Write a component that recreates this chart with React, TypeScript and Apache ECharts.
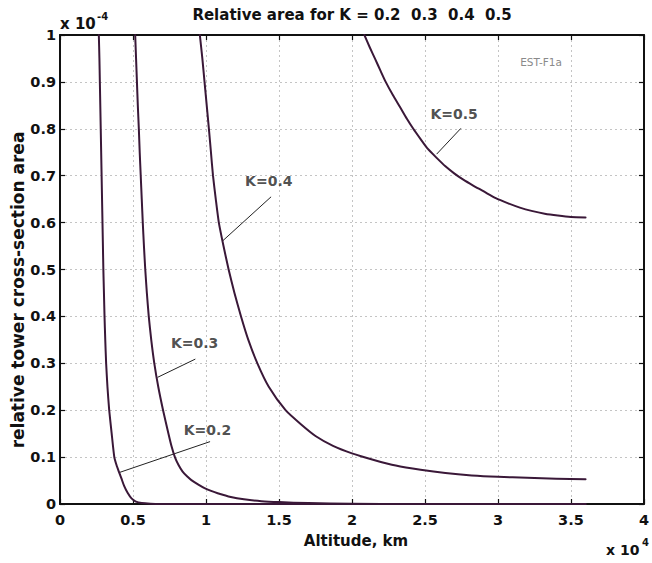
import React, { useEffect, useRef } from "react";
import * as echarts from "echarts";

// Altitude (x 10^4 km) and relative tower cross-section area (x 10^-4) for each K
const altK02 = [0.266, 0.27, 0.273, 0.276, 0.279, 0.282, 0.285, 0.288, 0.291, 0.294, 0.297, 0.301, 0.305, 0.31, 0.316, 0.325, 0.337, 0.354, 0.372, 0.387, 0.403, 0.42, 0.44, 0.463, 0.49, 0.52, 0.56, 0.62, 0.7, 0.85, 3.6];
const areaK02 = [1.0, 0.95, 0.9, 0.85, 0.8, 0.75, 0.7, 0.65, 0.6, 0.55, 0.5, 0.45, 0.4, 0.35, 0.3, 0.25, 0.2, 0.15, 0.1, 0.083, 0.069, 0.055, 0.038, 0.024, 0.012, 0.005, 0.002, 0.0007, 0.0002, 0, 0];

const altK03 = [0.515, 0.521, 0.527, 0.533, 0.54, 0.546, 0.553, 0.56, 0.567, 0.575, 0.584, 0.595, 0.608, 0.625, 0.646, 0.673, 0.706, 0.743, 0.765, 0.787, 0.812, 0.84, 0.87, 0.9, 0.945, 0.99, 1.035, 1.08, 1.17, 1.26, 1.38, 1.5, 1.7, 2.0, 2.4, 3.6];
const areaK03 = [1.0, 0.95, 0.9, 0.85, 0.8, 0.75, 0.7, 0.65, 0.6, 0.55, 0.5, 0.45, 0.4, 0.35, 0.3, 0.25, 0.2, 0.15, 0.122, 0.1, 0.083, 0.069, 0.059, 0.051, 0.042, 0.034, 0.028, 0.023, 0.015, 0.01, 0.006, 0.004, 0.002, 0.0005, 0, 0];

const altK04 = [0.958, 0.975, 0.99, 1.005, 1.02, 1.034, 1.048, 1.067, 1.088, 1.12, 1.155, 1.195, 1.24, 1.29, 1.352, 1.43, 1.545, 1.65, 1.75, 1.87, 2.0, 2.15, 2.3, 2.47, 2.64, 2.82, 3.0, 3.2, 3.4, 3.6];
const areaK04 = [1.0, 0.95, 0.9, 0.85, 0.8, 0.75, 0.7, 0.65, 0.6, 0.55, 0.5, 0.45, 0.4, 0.35, 0.3, 0.25, 0.2, 0.17, 0.145, 0.124, 0.108, 0.094, 0.082, 0.073, 0.066, 0.061, 0.058, 0.056, 0.054, 0.053];

const altK05 = [2.085, 2.12, 2.16, 2.195, 2.231, 2.28, 2.33, 2.375, 2.42, 2.47, 2.52, 2.58, 2.64, 2.7, 2.76, 2.83, 2.9, 2.985, 3.07, 3.15, 3.23, 3.32, 3.41, 3.5, 3.6];
const areaK05 = [1.0, 0.975, 0.948, 0.924, 0.9, 0.872, 0.846, 0.822, 0.8, 0.778, 0.757, 0.738, 0.72, 0.705, 0.692, 0.679, 0.667, 0.652, 0.641, 0.632, 0.625, 0.619, 0.615, 0.612, 0.611];

// Curve labels and their leader lines, in data coordinates
const curveLabels = ["K=0.2", "K=0.3", "K=0.4", "K=0.5"];
const labelAt = [[1.01, 0.158], [0.922, 0.343], [1.43, 0.689], [2.70, 0.831]];
const leaderStart = [[1.028, 0.133], [0.927, 0.309], [1.446, 0.655], [2.746, 0.801]];
const leaderEnd = [[0.405, 0.067], [0.668, 0.27], [1.114, 0.561], [2.58, 0.746]];

const FONT = "DejaVu Sans";
const CURVE_COLOR = "#3a1838";
const INK = "#111";

const zip = (xs: number[], ys: number[]) => xs.map((x, i) => [x, ys[i]]);

export default function App() {
  const ref = useRef<HTMLDivElement>(null);

  useEffect(() => {
    if (!ref.current) return;
    const chart = echarts.init(ref.current, null, { renderer: "svg" });

    const gridLine = { show: true, lineStyle: { color: "#c4c4c4", type: [2, 3], width: 1 } };
    const frameLine = { show: true, onZero: false, lineStyle: { color: INK, width: 2 } };
    const tickIn = { show: true, inside: true, length: 5, lineStyle: { color: INK, width: 1.2 } };
    const tickLabel = { fontFamily: FONT, fontWeight: "bold" as const, fontSize: 14.5, color: INK };

    const curves = [
      zip(altK02, areaK02),
      zip(altK03, areaK03),
      zip(altK04, areaK04),
      zip(altK05, areaK05),
    ];

    const curveSeries = curves.map((data, i) => ({
      type: "line",
      name: curveLabels[i],
      data,
      showSymbol: false,
      smooth: 0.2,
      lineStyle: { color: CURVE_COLOR, width: 2, join: "round", cap: "round" },
      silent: true,
      z: 3,
    }));

    const leaderSeries = curveLabels.map((_, i) => ({
      type: "line",
      data: [leaderStart[i], leaderEnd[i]],
      showSymbol: false,
      lineStyle: { color: "#222", width: 1 },
      silent: true,
      z: 2,
    }));

    const labelSeries = {
      type: "scatter",
      data: labelAt.map((p, i) => ({ value: p, name: curveLabels[i] })),
      symbolSize: 0,
      silent: true,
      label: {
        show: true,
        position: "inside",
        formatter: (p: any) => p.name,
        fontFamily: FONT,
        fontWeight: "bold",
        fontSize: 14,
        color: "#222",
      },
      z: 4,
    };

    const text = (
      t: string,
      x: number,
      y: number,
      size: number,
      align: string,
      extra: Record<string, unknown> = {}
    ) => ({
      type: "text",
      x,
      y,
      ...extra,
      style: {
        text: t,
        fontFamily: FONT,
        fontWeight: "bold",
        fontSize: size,
        fill: INK,
        textAlign: align,
        textVerticalAlign: "middle",
      },
    });

    chart.setOption({
      animation: false,
      backgroundColor: "#fff",
      grid: { left: 60, right: 2, top: 35, bottom: 59, containLabel: false },
      xAxis: [
        {
          type: "value",
          min: 0,
          max: 4,
          interval: 0.5,
          position: "bottom",
          axisLine: frameLine,
          axisTick: tickIn,
          axisLabel: { ...tickLabel, margin: 8 },
          splitLine: gridLine,
        },
        {
          type: "value",
          min: 0,
          max: 4,
          interval: 0.5,
          position: "top",
          axisLine: frameLine,
          axisTick: tickIn,
          axisLabel: { show: false },
          splitLine: { show: false },
        },
      ],
      yAxis: [
        {
          type: "value",
          min: 0,
          max: 1,
          interval: 0.1,
          position: "left",
          axisLine: frameLine,
          axisTick: tickIn,
          axisLabel: { ...tickLabel, margin: 4 },
          splitLine: gridLine,
        },
        {
          type: "value",
          min: 0,
          max: 1,
          interval: 0.1,
          position: "right",
          axisLine: frameLine,
          axisTick: tickIn,
          axisLabel: { show: false },
          splitLine: { show: false },
        },
      ],
      series: [...curveSeries, ...leaderSeries, labelSeries],
      graphic: [
        text("Relative area for K = 0.2  0.3  0.4  0.5", 352, 15, 15, "center"),
        text("x 10", 60, 24, 15, "left"),
        text("-4", 97, 16, 10, "left"),
        text("x 10", 606, 550, 14, "left"),
        text("4", 642, 542, 10, "left"),
        text("Altitude, km", 356, 541, 15, "center"),
        text("relative tower cross-section area", 18, 290, 17, "center", { rotation: Math.PI / 2 }),
        {
          type: "text",
          x: 541,
          y: 62,
          style: {
            text: "EST-F1a",
            fontFamily: FONT,
            fontSize: 10.5,
            fill: "#8a8a8a",
            textAlign: "center",
            textVerticalAlign: "middle",
          },
        },
      ],
    });

    return () => chart.dispose();
  }, []);

  return (
    <div
      ref={ref}
      style={{ position: "absolute", left: 0, top: 0, width: 652, height: 563, background: "#fff" }}
    />
  );
}
